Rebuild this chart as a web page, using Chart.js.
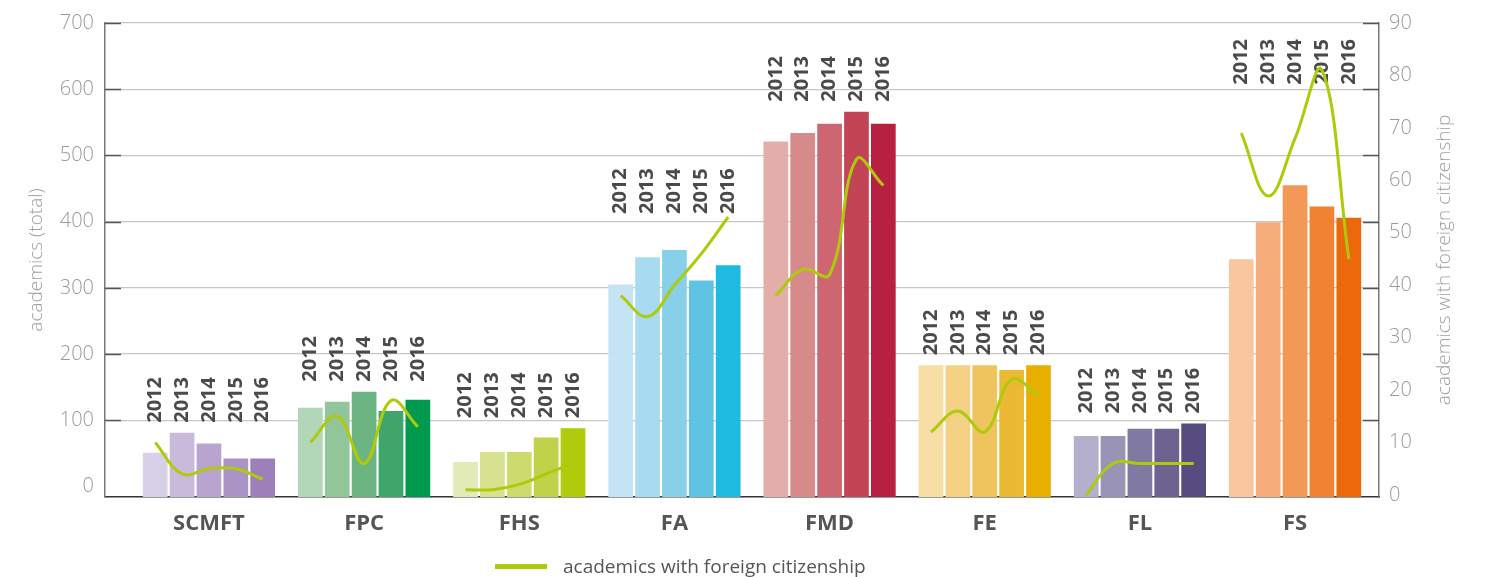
<!DOCTYPE html>
<html lang="en">
<head>
  <meta charset="UTF-8" />
  <title>Academics by faculty 2012-2016</title>
  <script src="https://cdn.jsdelivr.net/npm/chart.js"></script>
  <style>
    html, body { margin: 0; padding: 0; background: #fff; }
    #wrap { position: relative; width: 1502px; height: 577px; }
    #legend {
      position: absolute; left: 495px; top: 554px;
      display: flex; align-items: center;
      font: 19px "Open Sans", sans-serif; line-height: 25px; color: #555;
    }
    #legend .swatch { width: 52px; height: 5px; background: #afca0b; margin-right: 16px; }
  </style>
</head>
<body>
  <div id="wrap">
    <canvas id="chart" width="1502" height="577"></canvas>
    <div id="legend"><span class="swatch"></span><span>academics with foreign citizenship</span></div>
  </div>

  <script>
    const faculties = ["SCMFT", "FPC", "FHS", "FA", "FMD", "FE", "FL", "FS"];
    const years = ["2012", "2013", "2014", "2015", "2016"];

    // academics (total), per faculty, one array per year
    const total2012 = [51, 119, 37, 305, 521, 183, 76, 343];
    const total2013 = [81, 128, 52, 346, 534, 183, 76, 399];
    const total2014 = [65, 143, 52, 357, 548, 183, 87, 455];
    const total2015 = [42, 114, 74, 311, 566, 176, 87, 423];
    const total2016 = [42, 131, 88, 334, 548, 183, 95, 406];

    // academics with foreign citizenship, per faculty, one array per year
    const foreign2012 = [10, 10, 1, 38, 38, 12, 0, 69];
    const foreign2013 = [4, 15, 1, 34, 43, 16, 6, 57];
    const foreign2014 = [5, 6, 2, 40, 42, 12, 6, 68];
    const foreign2015 = [5, 18, 4, 46, 64, 22, 6, 81];
    const foreign2016 = [3, 13, 6, 53, 59, 19, 6, 45];

    const leftTicks = [0, 100, 200, 300, 400, 500, 600, 700];
    const rightTicks = [0, 10, 20, 30, 40, 50, 60, 70, 80, 90];

    const totals = [total2012, total2013, total2014, total2015, total2016];
    const foreign = [foreign2012, foreign2013, foreign2014, foreign2015, foreign2016];

    // one palette per faculty, light (2012) to dark (2016)
    const shades = {
      SCMFT: ["#d8d0e7", "#c9badb", "#b9a4cf", "#aa94c5", "#9d80b9"],
      FPC:   ["#b2d6b8", "#93c59a", "#6cb582", "#3ea56b", "#009a4e"],
      FHS:   ["#e2eab5", "#d6e28f", "#ccdb6e", "#c0d24a", "#b0cb0c"],
      FA:    ["#c4e4f4", "#a9dbf0", "#88cfea", "#60c3e4", "#1ebadf"],
      FMD:   ["#e3adaa", "#d78a8b", "#cd6670", "#c14554", "#b82041"],
      FE:    ["#f7dda6", "#f4d185", "#efc45f", "#ecb935", "#e9af00"],
      FL:    ["#b3afcc", "#9993b6", "#807aa2", "#6c6390", "#564c7f"],
      FS:    ["#fac6a0", "#f6ad7b", "#f39857", "#ef8233", "#eb690b"]
    };
    const lineColor = "#afca0b";

    const CAT_PCT = 0.866;
    const BAR_PCT = 0.92;
    const Y_MIN = -16;      // bars start a little under the 0 label, as in the original
    const Y1_MIN = -0.4;

    const barSets = years.map((yr, j) => ({
      type: "bar",
      label: yr,
      data: totals[j].map((v, i) => ({ x: i, y: v })),
      backgroundColor: faculties.map(f => shades[f][j]),
      base: Y_MIN,
      categoryPercentage: CAT_PCT,
      barPercentage: BAR_PCT,
      yAxisID: "y",
      order: 1
    }));

    // the curve goes through the centre of each year's bar, one piece per faculty
    const step = CAT_PCT / years.length;
    const linePoints = [];
    faculties.forEach((f, i) => {
      years.forEach((yr, j) => linePoints.push({ x: i + (j - 2) * step, y: foreign[j][i] }));
      linePoints.push({ x: i + 0.5, y: null });
    });

    const lineSet = {
      type: "line",
      label: "academics with foreign citizenship",
      data: linePoints,
      borderColor: lineColor,
      backgroundColor: lineColor,
      borderWidth: 3,
      pointRadius: 0,
      tension: 0.4,
      spanGaps: false,
      fill: false,
      yAxisID: "y1",
      order: 0
    };

    const yearLabels = {
      id: "yearLabels",
      beforeDatasetsDraw(chart) {
        const ctx = chart.ctx;
        const lineMeta = chart.getDatasetMeta(years.length);
        ctx.save();
        ctx.font = 'bold 20px "Open Sans"';
        ctx.fillStyle = "#4a4a4a";
        ctx.textBaseline = "middle";
        ctx.textAlign = "left";
        const textLen = ctx.measureText("2012").width;
        faculties.forEach((f, i) => {
          let bottom = Infinity;
          years.forEach((yr, j) => {
            bottom = Math.min(bottom, chart.getDatasetMeta(j).data[i].y - 10);
            bottom = Math.min(bottom, lineMeta.data[i * 6 + j].y - 3);
          });
          bottom = Math.max(bottom, chart.chartArea.top + 16 + textLen);
          years.forEach((yr, j) => {
            const bar = chart.getDatasetMeta(j).data[i];
            ctx.save();
            ctx.translate(bar.x, bottom);
            ctx.rotate(-Math.PI / 2);
            ctx.fillText(yr, 0, 0);
            ctx.restore();
          });
        });
        ctx.restore();
      },
      afterDraw(chart) {
        const ctx = chart.ctx;
        const { left, right, top, bottom } = chart.chartArea;
        const y = chart.scales.y;
        ctx.save();
        // short inner tick marks on both axes
        ctx.strokeStyle = "#555";
        ctx.lineWidth = 1.5;
        leftTicks.filter(v => v > 0).forEach(v => {
          const py = Math.round(y.getPixelForValue(v)) + 0.5;
          ctx.beginPath();
          ctx.moveTo(left, py); ctx.lineTo(left + 16, py);
          ctx.moveTo(right - 16, py); ctx.lineTo(right, py);
          ctx.stroke();
        });
        // right axis title, reading bottom to top
        ctx.font = '300 19px "Open Sans"';
        ctx.fillStyle = "#a0a0a0";
        ctx.textAlign = "center";
        ctx.textBaseline = "middle";
        ctx.translate(1445, (top + bottom) / 2);
        ctx.rotate(-Math.PI / 2);
        ctx.fillText("academics with foreign citizenship", 0, 0);
        ctx.restore();
      }
    };

    new Chart(document.getElementById("chart"), {
      data: { datasets: [...barSets, lineSet] },
      options: {
        responsive: false,
        animation: false,
        layout: { padding: { top: 22, left: 0, right: 0, bottom: 0 } },
        plugins: {
          legend: { display: false },
          tooltip: { enabled: true }
        },
        scales: {
          x: {
            type: "linear",
            offset: false,
            min: -0.67,
            max: 7.541,
            afterBuildTicks: s => { s.ticks = faculties.map((f, i) => ({ value: i })); },
            afterFit: s => { s.height = 80; },
            ticks: {
              autoSkip: false,
              maxRotation: 0,
              padding: 14,
              color: "#555",
              font: { family: "Open Sans", size: 22, weight: "bold" },
              callback: v => faculties[v]
            },
            grid: { display: false, drawTicks: false },
            border: { display: true, color: "#333", width: 1.5 }
          },
          y: {
            position: "left",
            min: Y_MIN,
            max: 700,
            afterBuildTicks: s => { s.ticks = leftTicks.map(v => ({ value: v })); },
            afterFit: s => { s.width = 105; },
            ticks: {
              padding: 11,
              color: "#9a9a9a",
              font: { family: "Open Sans", size: 20, weight: "300" }
            },
            grid: {
              drawTicks: false,
              lineWidth: 1.2,
              color: c => (c.tick && c.tick.value === 0 ? "rgba(0,0,0,0)" : "#c6c6c6")
            },
            border: { display: true, color: "#777", width: 1.5 },
            title: {
              display: true,
              text: "academics (total)",
              color: "#a0a0a0",
              font: { family: "Open Sans", size: 19, weight: "300" },
              padding: { top: 25, bottom: 0 }
            }
          },
          y1: {
            position: "right",
            min: Y1_MIN,
            max: 90,
            afterBuildTicks: s => { s.ticks = rightTicks.map(v => ({ value: v })); },
            afterFit: s => { s.width = 123; },
            ticks: {
              padding: 10,
              color: "#9a9a9a",
              font: { family: "Open Sans", size: 20, weight: "300" }
            },
            grid: { drawOnChartArea: false, drawTicks: false },
            border: { display: true, color: "#777", width: 1.5 }
          }
        }
      },
      plugins: [yearLabels]
    });
  </script>
</body>
</html>
